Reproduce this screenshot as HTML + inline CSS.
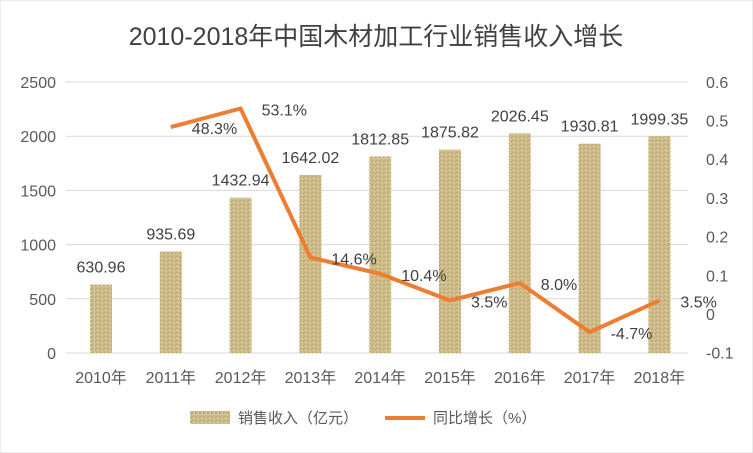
<!DOCTYPE html>
<html><head><meta charset="utf-8"><style>
body{margin:0;background:#fff;}
svg{display:block;font-family:"Liberation Sans","Noto Sans CJK SC",sans-serif;}
</style></head><body>
<svg id="chart" width="753" height="453" viewBox="0 0 753 453">
<defs>
<pattern id="tex" width="4" height="4" patternUnits="userSpaceOnUse">
<rect width="4" height="4" fill="#d0bf8c"/>
<rect x="0" y="0" width="1" height="1" fill="#b39f66"/>
<rect x="2" y="2" width="1" height="1" fill="#e6dab4"/>
<rect x="3" y="1" width="1" height="1" fill="#a8925a"/>
<rect x="1" y="3" width="1" height="1" fill="#c2ad74"/>
</pattern>
</defs>
<rect width="753" height="453" fill="#fff" stroke="#d9d9d9"/>
<text x="376" y="45" text-anchor="middle" font-size="25" fill="#404040">2010-2018年中国木材加工行业销售收入增长</text>
<g id="grid"></g><g id="bars"></g><g id="line"></g><g id="labels"></g>
<g>
<rect x="190" y="411" width="40" height="13" fill="url(#tex)"/>
<text x="238" y="423" font-size="15" fill="#595959">销售收入（亿元）</text>
<line x1="385" y1="418" x2="425" y2="418" stroke="#ed7d31" stroke-width="4"/>
<text x="433" y="423" font-size="15" fill="#595959">同比增长（%）</text>
</g>
</svg>
<script>
const categories=["2010年","2011年","2012年","2013年","2014年","2015年","2016年","2017年","2018年"];
const revenue=[630.96,935.69,1432.94,1642.02,1812.85,1875.82,2026.45,1930.81,1999.35];
const growth=[null,48.3,53.1,14.6,10.4,3.5,8.0,-4.7,3.5];
const leftTicks=[0,500,1000,1500,2000,2500];
const rightTicks=[-0.1,0,0.1,0.2,0.3,0.4,0.5,0.6];
const NS="http://www.w3.org/2000/svg";
const yL=v=>353-v*(271/2500);
const yR=v=>314-v*387;
const xC=i=>101+i*69.8;
function mk(tag,attrs,parent,txt){const e=document.createElementNS(NS,tag);for(const k in attrs)e.setAttribute(k,attrs[k]);if(txt!=null)e.textContent=txt;document.getElementById(parent).appendChild(e);return e;}
leftTicks.forEach(t=>{
 const g=mk('line',{x1:66,x2:688,y1:yL(t),y2:yL(t),stroke:'#d9d9d9','stroke-width':1},'grid');
 
 
 const l=mk('text',{x:56,y:yL(t)+6,'text-anchor':'end','font-size':16,fill:'#595959'},'grid',t);
 
 
});
rightTicks.forEach(t=>{
 const l=mk('text',{x:706,y:yR(t)+6,'text-anchor':'start','font-size':16,fill:'#595959'},'grid',String(Math.round(t*10)/10));
 
 
});
categories.forEach((c,i)=>{
 const l=mk('text',{x:xC(i),y:383,'text-anchor':'middle','font-size':16,fill:'#595959'},'grid',c);
 
 
});
revenue.forEach((v,i)=>{
 const b=mk('rect',{x:xC(i)-11,y:yL(v),width:22,height:353-yL(v),fill:'url(#tex)'},'bars');
 
 
 const t=mk('text',{x:xC(i),y:yL(v)-12,'text-anchor':'middle','font-size':16,fill:'#404040'},'labels',v.toFixed(2));
 
 
});
const pts=[];
growth.forEach((g,i)=>{if(g!=null)pts.push([xC(i),yR(g/100),g]);});
const pl=mk('polyline',{points:pts.map(p=>p[0]+','+p[1]).join(' '),fill:'none',stroke:'#ed7d31','stroke-width':4,'stroke-linejoin':'round'},'line');


pts.forEach(p=>{
 const t=mk('text',{x:p[0]+21,y:p[1]+7,'text-anchor':'start','font-size':16,fill:'#404040'},'labels',p[2].toFixed(1)+'%');
 
 
});
</script>
</body></html>
